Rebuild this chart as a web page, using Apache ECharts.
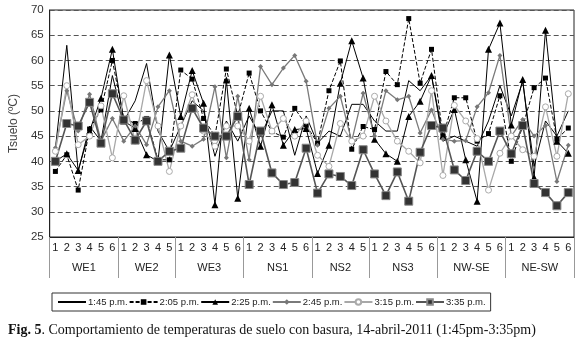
<!DOCTYPE html>
<html>
<head>
<meta charset="utf-8">
<script src="https://cdn.jsdelivr.net/npm/echarts@6/dist/echarts.min.js"></script>
<style>
  html, body { margin: 0; padding: 0; background: #fff; }
  #chart { width: 580px; height: 346px; }
</style>
</head>
<body>
<div id="chart"></div>
<script>
// sub-position labels inside each transect
var positions = ['1','2','3','4','5','6', '1','2','3','4','5', '1','2','3','4','5','6',
  '1','2','3','4','5','6', '1','2','3','4','5', '1','2','3','4','5','6',
  '1','2','3','4','5','6', '1','2','3','4','5','6'];
var groups = ['WE1', 'WE2', 'WE3', 'NS1', 'NS2', 'NS3', 'NW-SE', 'NE-SW'];
var groupSizes = [6, 5, 6, 6, 5, 6, 6, 6];
var seriesNames = ['1:45 p.m.', '2:05 p.m.', '2:25 p.m.', '2:45 p.m.', '3:15 p.m.', '3:35 p.m.'];

var t145 = [42.5, 63, 38, 47, 44, 57, 48, 52, 59.4, 46, 42, 47, 52, 50, 41, 48, 44, 49, 45, 50, 50, 41.2, 49,
  43.6, 46, 45, 51.3, 51.3, 48, 46, 46, 56, 54, 57, 44, 45, 44, 43, 48, 55, 49, 55.8, 39, 48, 45, 50];
var t205 = [38, 41.3, 34.3, 46.4, 50.2, 60, 48.5, 47.5, 48.5, 40.3, 40.3, 58.1, 56.3, 48.5, 45, 58.3, 49, 57.5, 50, 45.9, 44.8, 50.5, 47.2,
  43.6, 54, 59.9, 42.4, 46.9, 46.3, 57.8, 55.2, 68.3, 55.5, 62.2, 45, 52.6, 52.6, 44, 45.5, 53, 40, 47, 54.6, 56.5, 44.4, 46.6];
var t225 = [40, 41.5, 38.2, 46, 52.5, 62.2, 48, 46.5, 41.3, 40, 61.1, 48.9, 58, 51.5, 31.4, 56.1, 32.7, 50.5, 43, 51.2, 43.2, 46.3, 46.5,
  37.6, 43.2, 55.5, 63.9, 56.5, 44.4, 41.5, 40, 48.9, 51.9, 57, 45, 50.3, 40.3, 32.1, 62.2, 67.4, 47.2, 56.2, 36.8, 66, 44, 41.6];
var t245 = [42.7, 54, 46, 53.3, 44, 48.5, 44, 47, 43.3, 50.8, 54, 44, 43, 44.4, 54.8, 40.7, 52.9, 40.3, 58.8, 55.2, 58.5, 61, 55.9,
  43.2, 50.5, 52.9, 44, 53.5, 45, 54, 52.2, 52.9, 45.6, 50.2, 44.4, 44, 44.1, 50.8, 53.6, 61, 45, 48.3, 45, 47.1, 36, 43.2];
var t315 = [42, 55, 43.3, 45, 51, 40.7, 53, 44, 56, 47, 38, 47, 53.2, 46, 43, 47, 47, 44, 52.9, 46, 48.5, 45, 48,
  41.2, 39, 47.5, 44, 45, 52.9, 48, 44, 42, 39.7, 54, 37.2, 51.1, 48, 44.5, 34.3, 41.6, 45, 42.3, 41, 50.8, 41, 53.4];
var t335 = [40, 47.5, 47, 51.7, 43.6, 53.4, 48.2, 44.2, 48, 40, 42, 42.6, 50.5, 46.6, 45, 45, 48.9, 35.4, 46, 37.7, 35.4, 35.8, 42.6,
  33.7, 37.5, 37, 35.2, 42.3, 37.5, 33.2, 37.9, 32.1, 41.8, 47.1, 46.6, 38.3, 36.2, 42, 40, 46, 41.5, 47.1, 35.6, 33.8, 31.2, 33.8];

// group boundaries and centers on a 0..46 value scale
var bounds = [0], centers = [];
groupSizes.forEach(function (n, i) {
    centers.push(bounds[i] + n / 2);
    bounds.push(bounds[i] + n);
});

var chart = echarts.init(document.getElementById('chart'));

chart.setOption({
    animation: false,
    textStyle: { fontFamily: 'Liberation Sans, Arial', color: '#222' },
    grid: { left: 47, right: 6, top: 10, bottom: 109, show: true, borderColor: '#222', borderWidth: 1 },
    legend: {
        bottom: 35,
        left: 52,
        itemWidth: 28,
        itemHeight: 7,
        itemGap: 1,
        padding: [4, 5],
        borderColor: '#333',
        borderWidth: 1,
        borderRadius: 0,
        data: [{ name: seriesNames[0], itemStyle: { opacity: 0 } }].concat(seriesNames.slice(1)),
        textStyle: { fontSize: 9.5, color: '#222', padding: [0, 0, 0, -3] }
    },
    title: {
        left: 3,
        bottom: 4,
        text: '{b|Fig. 5}. Comportamiento de temperaturas de suelo con basura, 14-abril-2011 (1:45pm-3:35pm)',
        textStyle: {
            fontFamily: 'Liberation Serif, Times New Roman',
            fontSize: 14, fontWeight: 'normal', color: '#111',
            rich: { b: { fontFamily: 'Liberation Serif', fontSize: 14, fontWeight: 'bold', color: '#111' } }
        }
    },
    xAxis: [{
        type: 'category',
        data: positions,
        boundaryGap: true,
        axisLine: { lineStyle: { color: '#222' } },
        axisTick: { interval: 0, length: 18, lineStyle: { color: '#999' } },
        axisLabel: { interval: 0, margin: 5, fontSize: 11, color: '#222' },
        splitLine: { show: false }
    }, {
        type: 'value',
        position: 'bottom',
        min: 0,
        max: 46,
        axisLine: { show: false },
        axisTick: { show: true, customValues: bounds, length: 41, lineStyle: { color: '#999' } },
        axisLabel: {
            customValues: centers,
            margin: 25,
            fontSize: 11,
            color: '#222',
            formatter: function (v) { return groups[centers.indexOf(v)]; }
        },
        splitLine: { show: false }
    }],
    yAxis: {
        type: 'value',
        min: 25,
        max: 70,
        interval: 5,
        name: 'Tsuelo (ºC)',
        nameLocation: 'middle',
        nameGap: 29,
        nameTextStyle: { fontSize: 12, color: '#444' },
        axisLine: { show: true, lineStyle: { color: '#222' } },
        axisTick: { show: false },
        axisLabel: { fontSize: 11.5, color: '#333', margin: 6 },
        splitLine: { lineStyle: { type: [5, 3], color: '#555', width: 1 } }
    },
    series: [{
        name: seriesNames[0], type: 'line', data: t145,
        symbol: 'none',
        lineStyle: { color: '#000', width: 1 }, itemStyle: { color: '#000' }
    }, {
        name: seriesNames[1], type: 'line', data: t205,
        symbol: 'rect', symbolSize: 5,
        lineStyle: { color: '#000', width: 1, type: [4, 2] }, itemStyle: { color: '#000' }
    }, {
        name: seriesNames[2], type: 'line', data: t225,
        symbol: 'triangle', symbolSize: 7,
        lineStyle: { color: '#000', width: 1 }, itemStyle: { color: '#000' }
    }, {
        name: seriesNames[3], type: 'line', data: t245,
        symbol: 'diamond', symbolSize: 5,
        lineStyle: { color: '#7a7a7a', width: 1.3 }, itemStyle: { color: '#777' }
    }, {
        name: seriesNames[4], type: 'line', data: t315,
        symbol: 'circle', symbolSize: 6,
        lineStyle: { color: '#a8a8a8', width: 1.3 }, itemStyle: { color: '#fff', borderColor: '#aaa', borderWidth: 1 }
    }, {
        name: seriesNames[5], type: 'line', data: t335,
        symbol: 'rect', symbolSize: 8,
        lineStyle: { color: '#555', width: 1.6 }, itemStyle: { color: '#333', borderColor: '#888', borderWidth: 1 }
    }]
});
</script>
</body>
</html>
